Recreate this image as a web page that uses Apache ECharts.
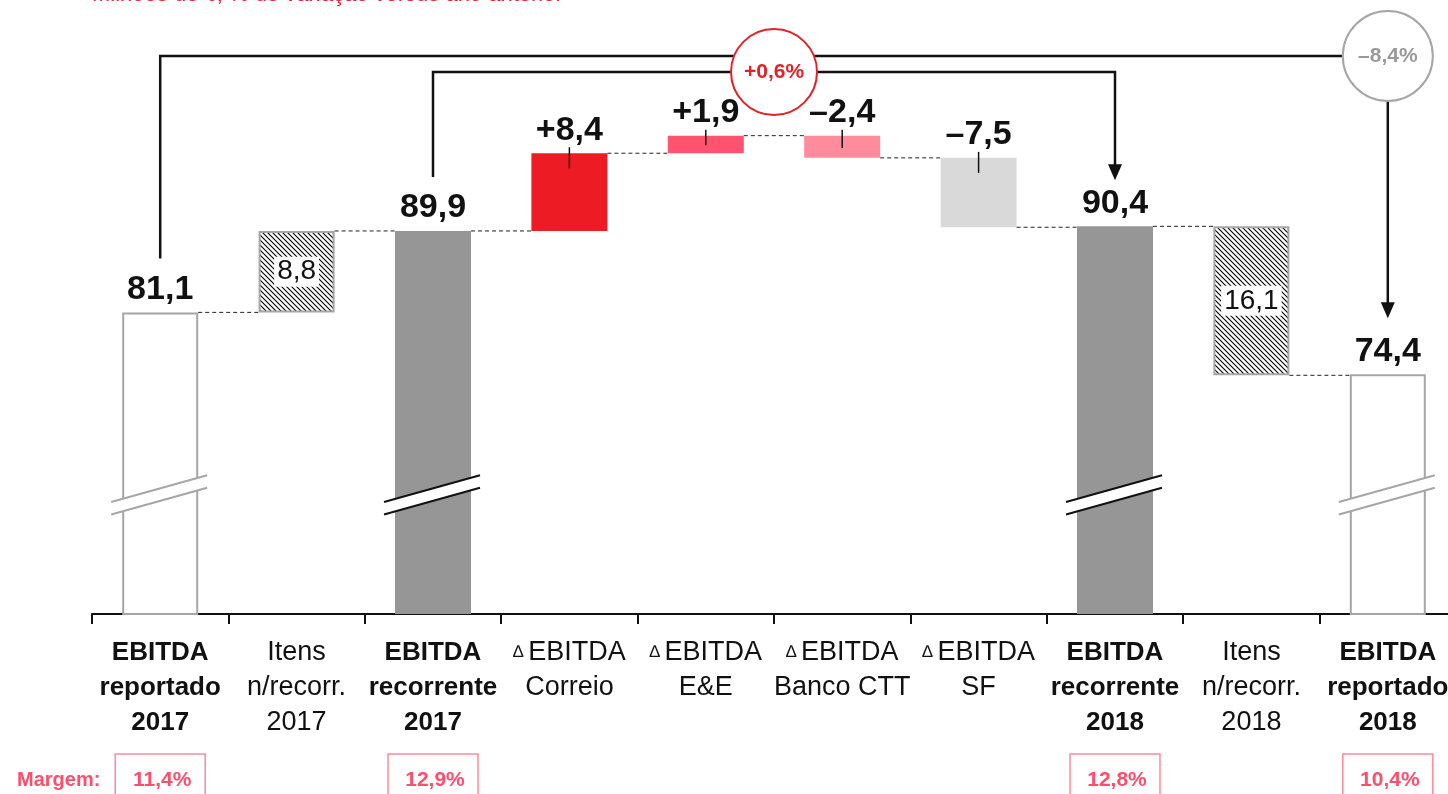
<!DOCTYPE html>
<html>
<head>
<meta charset="utf-8">
<title>EBITDA 2017 - 2018</title>
<script src="https://cdn.jsdelivr.net/npm/echarts@6.0.0/dist/echarts.min.js"></script>
<style>
	html, body { margin: 0; padding: 0; background: #fff; }
	#chart { width: 1448px; height: 794px; }
</style>
</head>
<body>
<div id="chart"></div>
<script>
	var categories = ['EBITDA\nreportado\n2017', 'Itens\nn/recorr.\n2017', 'EBITDA\nrecorrente\n2017', '∆ EBITDA\nCorreio', '∆ EBITDA\nE&E',
		'∆ EBITDA\nBanco CTT', '∆ EBITDA\nSF', 'EBITDA\nrecorrente\n2018', 'Itens\nn/recorr.\n2018', 'EBITDA\nreportado\n2018'];
	var kinds = ['total', 'hatch', 'total', 'delta', 'delta', 'delta', 'delta', 'total', 'hatch', 'total'];
	var values = [81.1, 8.8, 89.9, 8.4, 1.9, -2.4, -7.5, 90.4, -16.1, 74.4];
	var valueLabels = ['81,1', '8,8', '89,9', '+8,4', '+1,9', '–2,4', '–7,5', '90,4', '16,1', '74,4'];
	var margins = ['11,4%', '', '12,9%', '', '', '', '', '12,8%', '', '10,4%'];
	var changeRecorrente = '+0,6%';
	var changeReportado = '–8,4%';
	var title = 'Milhões de €; % de variação versus ano anterior';

	var FONT = 'Liberation Sans, Arial, sans-serif';
	var colors = { total: '#969696', correio: '#ed1c24', ee: '#ff5370', banco: '#ff8c9d', sf: '#d9d9d9' };
	var fills = ['#ffffff', 'hatch', colors.total, colors.correio, colors.ee, colors.banco, colors.sf, colors.total, 'hatch', '#ffffff'];

	// diagonal hatch pattern for the non recurring items
	function makeHatch() {
		var c = document.createElement('canvas');
		c.width = 5; c.height = 5;
		var ctx = c.getContext('2d');
		ctx.fillStyle = '#fff';
		ctx.fillRect(0, 0, 5, 5);
		ctx.strokeStyle = '#000';
		ctx.lineWidth = 1.1;
		ctx.beginPath();
		ctx.moveTo(-1, -1); ctx.lineTo(6, 6);
		ctx.moveTo(-1, 4); ctx.lineTo(1, 6);
		ctx.moveTo(4, -1); ctx.lineTo(6, 1);
		ctx.stroke();
		return c;
	}
	var hatch = { image: makeHatch(), repeat: 'repeat' };

	// waterfall: invisible base + visible part
	var level = 0, base = [], ends = [], starts = [], bars = [];
	values.forEach(function (v, i) {
		starts.push(kinds[i] === 'total' ? 0 : level);
		if (kinds[i] === 'total') {
			base.push(0); bars.push(v); level = v;
		} else {
			var next = level + v;
			base.push(Math.min(level, next)); bars.push(Math.abs(v)); level = next;
		}
		ends.push(level);
	});

	var barData = bars.map(function (v, i) {
		var isHatch = kinds[i] === 'hatch';
		var white = fills[i] === '#ffffff';
		return {
			value: v,
			itemStyle: {
				color: isHatch ? hatch : fills[i],
				borderColor: (isHatch || white) ? '#a6a6a6' : fills[i],
				borderWidth: (isHatch || white) ? 2 : 0
			},
			label: isHatch ? {
				show: true, position: 'inside', formatter: valueLabels[i],
				fontSize: 28, fontWeight: 'normal', fontFamily: FONT, color: '#111',
				backgroundColor: '#fff', padding: [2, 3, 0, 3]
			} : {
				show: true, position: 'top', distance: 6, formatter: valueLabels[i],
				fontSize: 34, fontWeight: 'bold', fontFamily: FONT, color: '#111'
			}
		};
	});

	function axisLabel(value) {
		var bold = value.indexOf('EBITDA\n') === 0;
		return value.split('\n').map(function (line) {
			if (line.indexOf('∆ ') === 0) return '{t|∆ }{r|' + line.slice(2) + '}';
			return (bold ? '{b|' : '{r|') + line + '}';
		}).join('\n');
	}

	var chart = echarts.init(document.getElementById('chart'));
	var option = {
		animation: false,
		grid: { left: 92, width: 1364, top: 45, bottom: 180, outerBoundsMode: 'none', containLabel: false },
		xAxis: {
			type: 'category',
			data: categories,
			axisLine: { lineStyle: { color: '#111', width: 2 } },
			axisTick: { show: true, length: 10, lineStyle: { color: '#111', width: 2 } },
			axisLabel: {
				interval: 0,
				margin: 21,
				formatter: axisLabel,
				rich: {
					b: { fontSize: 26, fontWeight: 'bold', fontFamily: FONT, color: '#111', lineHeight: 35 },
					r: { fontSize: 27, fontFamily: FONT, color: '#111', lineHeight: 35 },
					t: { fontSize: 17, fontFamily: FONT, color: '#111', lineHeight: 35 }
				}
			}
		},
		yAxis: { type: 'value', min: 48.5, max: 110, show: false, splitLine: { show: false } },
		series: [
			{ type: 'bar', stack: 'w', data: base, barWidth: 76, itemStyle: { color: 'transparent' }, silent: true },
			{ type: 'bar', stack: 'w', data: barData, barWidth: 76 }
		]
	};
	chart.setOption(option);

	function px(i, v) { return chart.convertToPixel({ gridIndex: 0 }, [i, v]); }
	var half = 38, g = [];

	g.push({ type: 'text', x: 92, y: 6, style: { text: title, fill: '#e8202a', fontSize: 22, fontFamily: FONT, verticalAlign: 'bottom' } });

	// dashed connectors between bars
	for (var i = 0; i < categories.length - 1; i++) {
		var y = px(i, ends[i])[1];
		g.push({ type: 'line', shape: { x1: px(i, 0)[0] + half, y1: y, x2: px(i + 1, 0)[0] - half, y2: y },
			style: { stroke: '#222', lineWidth: 1, lineDash: [4, 3] } });
	}

	// small ticks from the delta labels into the bars
	kinds.forEach(function (k, i) {
		if (k !== 'delta') return;
		var top = px(i, Math.max(starts[i], ends[i]))[1];
		var bottom = px(i, Math.min(starts[i], ends[i]))[1];
		var x = px(i, 0)[0];
		g.push({ type: 'line', shape: { x1: x, y1: top - 6, x2: x, y2: top + Math.min(15, (bottom - top) * 0.55) },
			style: { stroke: '#111', lineWidth: 1.5 } });
	});

	// axis break marks
	var BREAK_AT = 61.4;
	kinds.forEach(function (k, i) {
		if (k !== 'total') return;
		var c = px(i, BREAK_AT), x1 = c[0] - 49, x2 = c[0] + 47;
		var yl = c[1] - 6.25 + 49 * 0.278, yr = c[1] - 6.25 - 47 * 0.278;
		var stroke = fills[i] === '#ffffff' ? '#a6a6a6' : '#111';
		g.push({ type: 'polygon', shape: { points: [[x1, yl], [x2, yr], [x2, yr + 12.5], [x1, yl + 12.5]] }, style: { fill: '#fff' } });
		g.push({ type: 'line', shape: { x1: x1, y1: yl, x2: x2, y2: yr }, style: { stroke: stroke, lineWidth: 2 } });
		g.push({ type: 'line', shape: { x1: x1, y1: yl + 12.5, x2: x2, y2: yr + 12.5 }, style: { stroke: stroke, lineWidth: 2 } });
	});

	// bracket arrows
	function arrowHead(x, tip) {
		return { type: 'polygon', shape: { points: [[x - 7, tip - 16], [x + 7, tip - 16], [x, tip]] }, style: { fill: '#111' } };
	}
	var lineStyle = { stroke: '#111', lineWidth: 2.5, fill: null };
	var xa = px(0, 0)[0], xb = px(9, 0)[0], yA = 56;
	var startA = px(0, values[0])[1] - 54, tipA = px(9, values[9])[1] - 56;
	g.push({ type: 'polyline', shape: { points: [[xa, startA], [xa, yA], [xb, yA], [xb, tipA - 14]] }, style: lineStyle });
	g.push(arrowHead(xb, tipA));
	var xc = px(2, 0)[0], xd = px(7, 0)[0], yB = 72;
	var startB = px(2, values[2])[1] - 54, tipB = px(7, values[7])[1] - 46;
	g.push({ type: 'polyline', shape: { points: [[xc, startB], [xc, yB], [xd, yB], [xd, tipB - 14]] }, style: lineStyle });
	g.push(arrowHead(xd, tipB));

	g.push({ type: 'circle', shape: { cx: (xc + xd) / 2, cy: yB, r: 43 }, style: { fill: '#fff', stroke: '#e42127', lineWidth: 2 } });
	g.push({ type: 'text', x: (xc + xd) / 2, y: yB, style: { text: changeRecorrente, fill: '#e42127', fontSize: 21, fontWeight: 'bold',
		fontFamily: FONT, align: 'center', verticalAlign: 'middle' } });
	g.push({ type: 'circle', shape: { cx: xb, cy: yA, r: 45 }, style: { fill: '#fff', stroke: '#a6a6a6', lineWidth: 2 } });
	g.push({ type: 'text', x: xb, y: yA, style: { text: changeReportado, fill: '#999', fontSize: 21, fontWeight: 'bold',
		fontFamily: FONT, align: 'center', verticalAlign: 'middle' } });

	// margin row
	g.push({ type: 'text', x: 17, y: 780, style: { text: 'Margem:', fill: '#ff4d6d', fontSize: 20, fontWeight: 'bold',
		fontFamily: FONT, verticalAlign: 'middle' } });
	margins.forEach(function (m, i) {
		if (!m) return;
		var x = px(i, 0)[0];
		g.push({ type: 'rect', shape: { x: x - 45, y: 754, width: 90, height: 60 }, style: { fill: null, stroke: '#ff8a9b', lineWidth: 1.5 } });
		g.push({ type: 'text', x: x + 2, y: 780, style: { text: m, fill: '#ff4d6d', fontSize: 21, fontWeight: 'bold',
			fontFamily: FONT, align: 'center', verticalAlign: 'middle' } });
	});

	g.forEach(function (el) { el.z = 100; });
	chart.setOption({ graphic: g });
</script>
</body>
</html>
